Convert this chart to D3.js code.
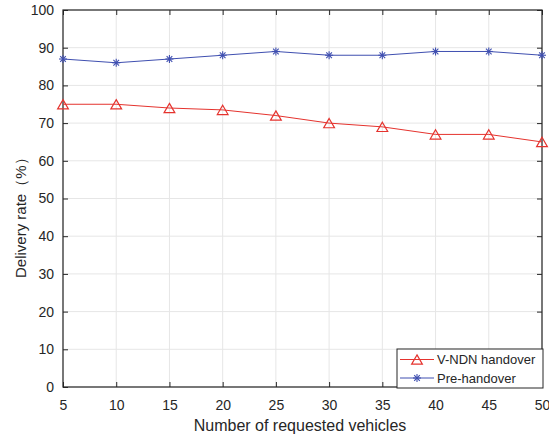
<!DOCTYPE html>
<html>
<head>
<meta charset="utf-8">
<script src="https://cdn.jsdelivr.net/npm/d3@7"></script>
<style>
  body { margin: 0; background: #fff; }
  text { font-family: Arial, "Liberation Sans", Helvetica, sans-serif; fill: #262626; }
</style>
</head>
<body>
<div id="wrapper"></div>
<script>
const vehicles = [5, 10, 15, 20, 25, 30, 35, 40, 45, 50]
const vndnRate = [75, 75, 74, 73.5, 72, 70, 69, 67, 67, 65]
const preRate = [87, 86, 87, 88, 89, 88, 88, 89, 89, 88]
const xTicks = [5, 10, 15, 20, 25, 30, 35, 40, 45, 50]
const yTicks = [0, 10, 20, 30, 40, 50, 60, 70, 80, 90, 100]
const seriesNames = ["V-NDN handover", "Pre-handover"]

const width = 549
const height = 440
const margin = { top: 10, right: 7, bottom: 53, left: 63 }
const innerW = width - margin.left - margin.right
const innerH = height - margin.top - margin.bottom

const red = "#e5332e"
const blue = "#3f4fb0"

const svg = d3.select("#wrapper").append("svg")
  .attr("width", width)
  .attr("height", height)

const g = svg.append("g")
  .attr("transform", `translate(${margin.left},${margin.top})`)

const x = d3.scaleLinear().domain([5, 50]).range([0, innerW])
const y = d3.scaleLinear().domain([0, 100]).range([innerH, 0])

// grid
g.append("g").selectAll("line").data(xTicks).join("line")
  .attr("x1", d => x(d)).attr("x2", d => x(d))
  .attr("y1", 0).attr("y2", innerH)
  .attr("stroke", "#e6e6e6").attr("stroke-width", 1)
g.append("g").selectAll("line").data(yTicks).join("line")
  .attr("x1", 0).attr("x2", innerW)
  .attr("y1", d => y(d)).attr("y2", d => y(d))
  .attr("stroke", "#e6e6e6").attr("stroke-width", 1)

// axes, ticks inward
const axisStyle = (sel) => {
  sel.select(".domain").remove()
  sel.selectAll(".tick line").attr("stroke", "#262626")
  sel.selectAll(".tick text").style("font-size", "14px").attr("fill", "#262626")
}
g.append("g").attr("transform", `translate(0,${innerH})`)
  .call(d3.axisBottom(x).tickValues(xTicks).tickSizeInner(-5).tickSizeOuter(0).tickPadding(13))
  .call(axisStyle)
g.append("g")
  .call(d3.axisLeft(y).tickValues(yTicks).tickSizeInner(-5).tickSizeOuter(0).tickPadding(9))
  .call(axisStyle)
g.append("g")
  .call(d3.axisTop(x).tickValues(xTicks).tickSizeInner(-5).tickSizeOuter(0).tickFormat(""))
  .call(axisStyle)
g.append("g").attr("transform", `translate(${innerW},0)`)
  .call(d3.axisRight(y).tickValues(yTicks).tickSizeInner(-5).tickSizeOuter(0).tickFormat(""))
  .call(axisStyle)

g.append("rect")
  .attr("width", innerW).attr("height", innerH)
  .attr("fill", "none").attr("stroke", "#262626").attr("stroke-width", 1.2)

// lines
const line = d3.line().x(d => x(d[0])).y(d => y(d[1]))
const vndnData = vehicles.map((v, i) => [v, vndnRate[i]])
const preData = vehicles.map((v, i) => [v, preRate[i]])

g.append("path").attr("d", line(vndnData))
  .attr("fill", "none").attr("stroke", red).attr("stroke-width", 1)
g.append("path").attr("d", line(preData))
  .attr("fill", "none").attr("stroke", blue).attr("stroke-width", 1)

// triangle centred on its bounding box, like MATLAB's '^' marker
const triSize = 50
const triShift = Math.sqrt(triSize / (Math.sqrt(3) * 3)) / 2
const triangle = d3.symbol().type(d3.symbolTriangle).size(triSize)
const drawTri = (sel) => sel.attr("d", triangle)
  .attr("fill", "none").attr("stroke", red).attr("stroke-width", 1.2)
const drawStar = (sel, r = 4) => {
  const angles = [0, 45, 90, 135]
  angles.forEach(a => {
    const rad = a * Math.PI / 180
    sel.append("line")
      .attr("x1", -r * Math.cos(rad)).attr("y1", -r * Math.sin(rad))
      .attr("x2", r * Math.cos(rad)).attr("y2", r * Math.sin(rad))
      .attr("stroke", blue).attr("stroke-width", 1.1)
  })
}

g.append("g").selectAll("path").data(vndnData).join("path")
  .attr("transform", d => `translate(${x(d[0])},${y(d[1]) + triShift})`)
  .call(drawTri)

g.append("g").selectAll("g").data(preData).join("g")
  .attr("transform", d => `translate(${x(d[0])},${y(d[1])})`)
  .each(function () { drawStar(d3.select(this)) })

// axis titles
svg.append("text")
  .attr("x", 300).attr("y", 431)
  .attr("text-anchor", "middle").style("font-size", "16px")
  .text("Number of requested vehicles")
svg.append("text")
  .attr("transform", "translate(26,278) rotate(-90)")
  .attr("text-anchor", "start").style("font-size", "15px")
  .text("Delivery rate（%）")

// legend
const legend = svg.append("g").attr("transform", "translate(397,349)")
legend.append("rect")
  .attr("width", 146).attr("height", 39)
  .attr("fill", "#fff").attr("stroke", "#262626").attr("stroke-width", 1)
const colors = [red, blue]
seriesNames.forEach((name, i) => {
  const ly = 10.5 + i * 18.5
  legend.append("line")
    .attr("x1", 3).attr("x2", 37).attr("y1", ly).attr("y2", ly)
    .attr("stroke", colors[i]).attr("stroke-width", 1)
  const m = legend.append("g").attr("transform", `translate(20,${ly + (i === 0 ? triShift : 0)})`)
  if (i === 0) m.append("path").call(drawTri)
  else drawStar(m)
  legend.append("text")
    .attr("x", 40).attr("y", ly).attr("dy", "0.35em")
    .style("font-size", "13px").text(name)
})
</script>
</body>
</html>
